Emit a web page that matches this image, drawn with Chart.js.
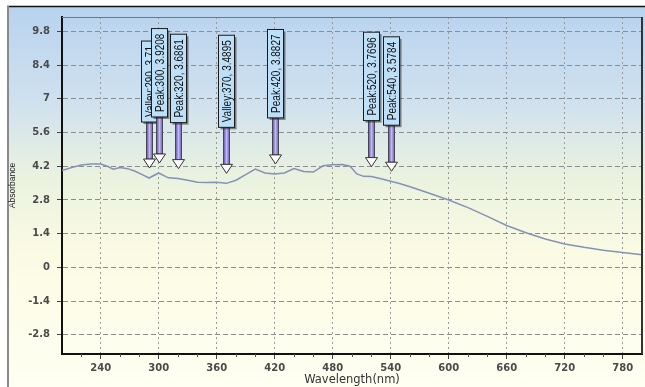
<!DOCTYPE html>
<html>
<head>
<meta charset="utf-8">
<script src="https://cdn.jsdelivr.net/npm/chart.js@4"></script>
<style>
  html, body { margin: 0; padding: 0; background: #fff; }
  #wrap { width: 645px; height: 387px; }
</style>
</head>
<body>
<div id="wrap"><canvas id="spectrum" width="645" height="387"></canvas></div>
<script>
// spectrum
const wavelength = [200, 210, 220, 230, 240, 247, 253, 260, 268, 275, 283, 290, 300, 310, 320, 330, 340, 350, 360, 370,
  380, 390, 400, 410, 420, 430, 440, 450, 460, 470, 480, 490, 498, 505, 512, 520, 530, 540, 550, 560,
  580, 600, 620, 640, 660, 680, 700, 720, 740, 760, 780, 800];
const absorbance = [4.02, 4.15, 4.25, 4.29, 4.29, 4.2, 4.08, 4.15, 4.1, 4.0, 3.85, 3.71, 3.9208, 3.72, 3.6861, 3.62, 3.54, 3.52, 3.53, 3.4895,
  3.62, 3.85, 4.08, 3.92, 3.8827, 3.92, 4.1, 3.98, 3.96, 4.22, 4.26, 4.27, 4.2, 3.88, 3.78, 3.7696, 3.68, 3.5784, 3.47, 3.35,
  3.08, 2.8, 2.48, 2.12, 1.74, 1.44, 1.18, 0.97, 0.83, 0.71, 0.62, 0.52];

const xTicks = [240, 300, 360, 420, 480, 540, 600, 660, 720, 780];
const yTicks = [-2.8, -1.4, 0, 1.4, 2.8, 4.2, 5.6, 7, 8.4, 9.8];

// peak / valley callouts
const markKind = ["Valley", "Peak", "Peak", "Valley", "Peak", "Peak", "Peak"];
const markWl = [290, 300, 320, 370, 420, 520, 540];
const markVal = [3.71, 3.9208, 3.6861, 3.4895, 3.8827, 3.7696, 3.5784];

const backdrop = {
  id: "backdrop",
  beforeDraw(chart) {
    const { ctx, width, height } = chart;
    ctx.save();
    ctx.fillStyle = "#fff";
    ctx.fillRect(0, 0, width, height);
    const g = ctx.createLinearGradient(0, 6, 0, height);
    g.addColorStop(0, "#b8d2ee");
    g.addColorStop(0.25, "#cfe1ef");
    g.addColorStop(0.45, "#eaf2df");
    g.addColorStop(0.65, "#fbfbe4");
    g.addColorStop(1, "#fffff2");
    ctx.fillStyle = g;
    ctx.fillRect(7, 6, width - 7, height - 6);
    ctx.strokeStyle = "#111";
    ctx.lineWidth = 1.5;
    ctx.beginPath();
    ctx.moveTo(7, 6.5);
    ctx.lineTo(width, 6.5);
    ctx.stroke();
    ctx.strokeStyle = "#8a8a8a";
    ctx.lineWidth = 2;
    ctx.beginPath();
    ctx.moveTo(8, 6);
    ctx.lineTo(8, height);
    ctx.stroke();
    ctx.restore();
  },
};

const callouts = {
  id: "callouts",
  afterDraw(chart) {
    const { ctx, chartArea, scales } = chart;
    const x = scales.x, y = scales.y;
    ctx.save();

    // top and right frame of the plot
    ctx.strokeStyle = "#777";
    ctx.lineWidth = 1;
    ctx.beginPath();
    ctx.moveTo(chartArea.left, chartArea.top + 0.5);
    ctx.lineTo(chartArea.right, chartArea.top + 0.5);
    ctx.stroke();
    ctx.strokeStyle = "#333";
    ctx.lineWidth = 2;
    ctx.beginPath();
    ctx.moveTo(chartArea.right, chartArea.top);
    ctx.lineTo(chartArea.right, chartArea.bottom);
    ctx.stroke();

    // minor ticks every 20 nm
    ctx.strokeStyle = "#555";
    ctx.lineWidth = 1;
    for (let wl = 220; wl < 800; wl += 20) {
      if (wl % 60 === 0) continue;
      const px = Math.round(x.getPixelForValue(wl)) + 0.5;
      ctx.beginPath();
      ctx.moveTo(px, chartArea.bottom);
      ctx.lineTo(px, chartArea.bottom + 3);
      ctx.stroke();
    }

    ctx.font = '10px "Liberation Sans", Arial, sans-serif';
    markWl.forEach((wl, i) => {
      const text = markKind[i] + ":" + wl + ", " + markVal[i];
      const cx = Math.round(x.getPixelForValue(wl)) + 0.5;
      const tip = y.getPixelForValue(markVal[i]) - 10;
      const headH = 9;
      const boxBottom = tip - 46;
      const len = ctx.measureText(text).width + 10;
      const boxW = 16;
      const boxTop = boxBottom - len;

      // shaft
      const sg = ctx.createLinearGradient(cx - 3, 0, cx + 3, 0);
      sg.addColorStop(0, "#5a4aa8");
      sg.addColorStop(0.5, "#c2b8f4");
      sg.addColorStop(1, "#6a5abc");
      ctx.fillStyle = sg;
      ctx.fillRect(cx - 3, boxBottom, 6, tip - headH - boxBottom);
      ctx.strokeStyle = "#333";
      ctx.lineWidth = 0.8;
      ctx.strokeRect(cx - 3, boxBottom, 6, tip - headH - boxBottom);

      // head
      ctx.beginPath();
      ctx.moveTo(cx - 6, tip - headH);
      ctx.lineTo(cx + 6, tip - headH);
      ctx.lineTo(cx, tip);
      ctx.closePath();
      ctx.fillStyle = "#fff";
      ctx.fill();
      ctx.lineWidth = 1;
      ctx.stroke();

      // box with shadow
      ctx.fillStyle = "rgba(40,40,40,0.55)";
      ctx.fillRect(cx - boxW / 2 + 2, boxTop + 2, boxW, len);
      ctx.fillStyle = "#bddff8";
      ctx.fillRect(cx - boxW / 2, boxTop, boxW, len);
      ctx.strokeStyle = "#1b1b1b";
      ctx.lineWidth = 1;
      ctx.strokeRect(cx - boxW / 2, boxTop, boxW, len);

      // vertical label
      ctx.save();
      ctx.translate(cx, boxBottom - 5);
      ctx.scale(1.25, 1);
      ctx.rotate(-Math.PI / 2);
      ctx.fillStyle = "#111";
      ctx.textAlign = "left";
      ctx.textBaseline = "middle";
      ctx.fillText(text, 0, 0.5);
      ctx.restore();
    });
    ctx.restore();
  },
};

const tickFont = { family: '"DejaVu Sans", Verdana, sans-serif', size: 10, weight: "bold" };

new Chart(document.getElementById("spectrum"), {
  type: "line",
  data: {
    datasets: [
      {
        data: wavelength.map((wl, i) => ({ x: wl, y: absorbance[i] })),
        borderColor: "#8393b5",
        borderWidth: 1.5,
        pointRadius: 0,
        tension: 0,
        fill: false,
      },
    ],
  },
  options: {
    responsive: false,
    animation: false,
    layout: { padding: { top: 17, right: 3, left: 0, bottom: 0 } },
    plugins: {
      legend: { display: false },
      tooltip: { enabled: false },
    },
    scales: {
      x: {
        type: "linear",
        min: 200,
        max: 800,
        afterBuildTicks: (scale) => {
          scale.ticks = xTicks.map((v) => ({ value: v }));
        },
        afterFit: (scale) => {
          scale.height = 33;
        },
        ticks: {
          font: tickFont,
          color: "#4a4a4a",
          padding: 3,
          maxRotation: 0,
          callback: (v) => String(v),
        },
        grid: {
          color: "#9a9a9a",
          tickLength: 5,
          tickColor: "#444",
          tickBorderDash: [],
        },
        border: { color: "#111", width: 2, dash: [2, 3] },
        title: {
          display: true,
          text: "Wavelength(nm)",
          color: "#333",
          font: { family: '"DejaVu Sans", Verdana, sans-serif', size: 11.5 },
          padding: { top: 0, bottom: 0 },
        },
      },
      y: {
        type: "linear",
        min: -3.6,
        max: 10.4,
        afterBuildTicks: (scale) => {
          scale.ticks = yTicks.map((v) => ({ value: v }));
        },
        afterFit: (scale) => {
          scale.width = 62;
        },
        ticks: {
          font: tickFont,
          color: "#4a4a4a",
          padding: 7,
          callback: (v) => String(v),
        },
        grid: {
          color: "#8c8c8c",
          tickLength: 5,
          tickColor: "#444",
          tickBorderDash: [],
        },
        border: { color: "#111", width: 2, dash: [5, 3] },
        title: {
          display: true,
          text: "Absorbance",
          color: "#222",
          font: { family: '"Liberation Sans", Arial, sans-serif', size: 8.5 },
          padding: { top: 8, bottom: 0 },
        },
      },
    },
  },
  plugins: [backdrop, callouts],
});
</script>
</body>
</html>
